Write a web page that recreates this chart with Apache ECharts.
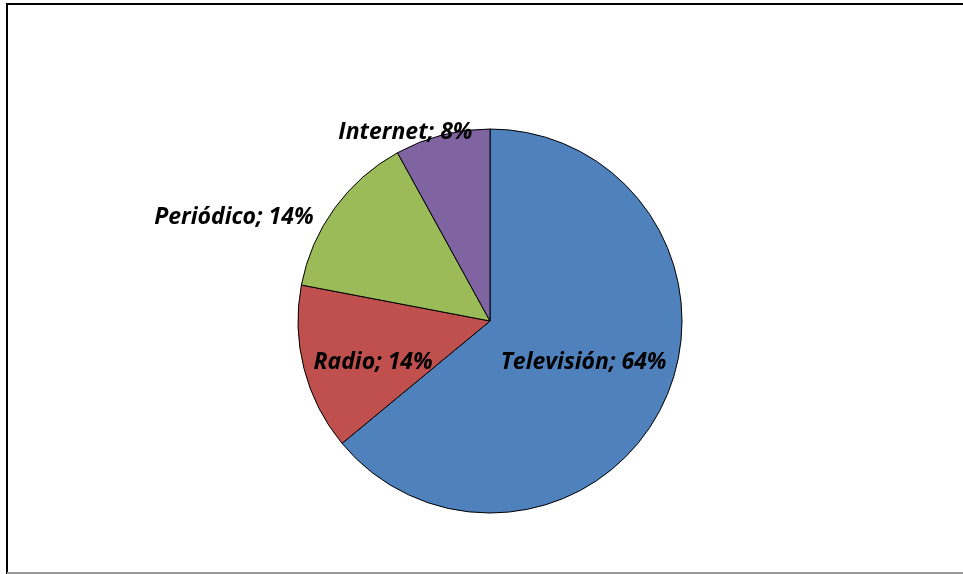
<!DOCTYPE html>
<html>
<head>
<meta charset="utf-8">
<script src="https://cdn.jsdelivr.net/npm/echarts@6/dist/echarts.min.js"></script>
<style>
  html, body { margin: 0; padding: 0; background: #fff; }
  #chart { width: 963px; height: 574px; }
</style>
</head>
<body>
<div id="chart"></div>
<script>
// Media shares
const categories = ['Televisión', 'Radio', 'Periódico', 'Internet'];
const shares = [64, 14, 14, 8];
const colors = ['#4F81BD', '#C0504D', '#9BBB59', '#8064A2'];

// Label nudges (dx, dy) from the default inside position
const labelShift = [[4, -1], [-21, 17], [-176, -45], [-60, -93]];

const chart = echarts.init(document.getElementById('chart'), null, { renderer: 'canvas' });

chart.setOption({
  backgroundColor: '#ffffff',
  animation: false,
  graphic: [
    {
      type: 'rect',
      shape: { x: 7, y: 4, width: 980, height: 569 },
      style: { fill: 'none', stroke: '#000', lineWidth: 2 },
      z: 0
    },
    {
      type: 'line',
      shape: { x1: 7, y1: 573, x2: 963, y2: 573 },
      style: { stroke: '#9a9a9a', lineWidth: 2 },
      z: 1
    }
  ],
  series: [{
    type: 'pie',
    center: [490, 321],
    radius: [0, 192],
    startAngle: 90,
    clockwise: true,
    avoidLabelOverlap: false,
    itemStyle: { borderColor: '#000', borderWidth: 1 },
    label: {
      show: true,
      position: 'inside',
      formatter: p => p.name + '; ' + p.value + '%',
      fontFamily: '"Open Sans", sans-serif',
      fontWeight: 'bold',
      fontStyle: 'italic',
      fontSize: 23,
      color: '#000'
    },
    labelLine: { show: false },
    labelLayout: p => ({ dx: labelShift[p.dataIndex][0], dy: labelShift[p.dataIndex][1] }),
    emphasis: { disabled: true },
    data: categories.map((c, i) => ({ name: c, value: shares[i], itemStyle: { color: colors[i] } }))
  }]
});
</script>
</body>
</html>
